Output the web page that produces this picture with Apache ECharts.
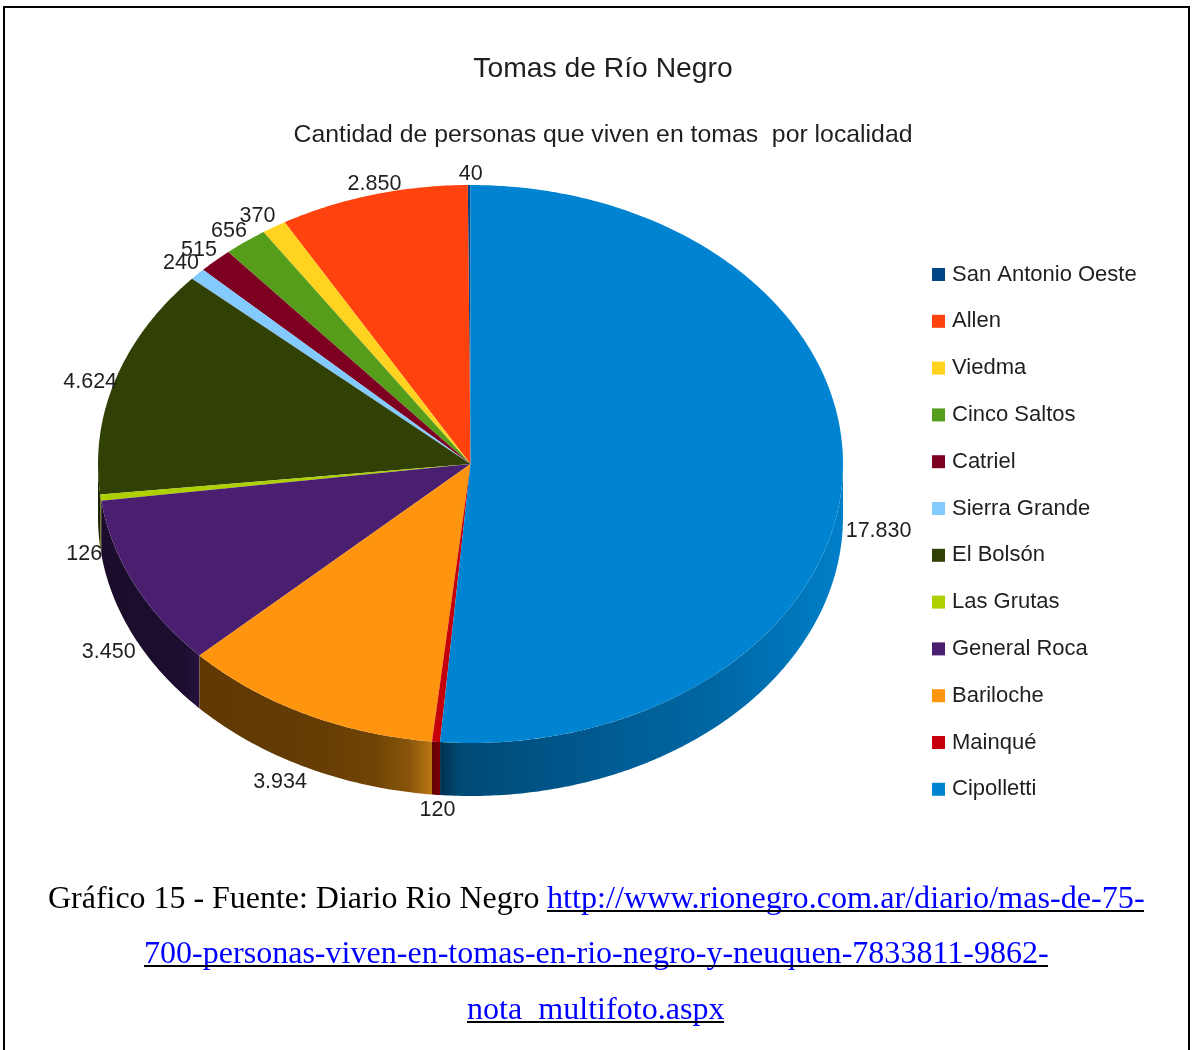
<!DOCTYPE html>
<html>
<head>
<meta charset="utf-8">
<style>html,body{margin:0;padding:0;background:#fff;overflow:hidden}#chart{width:1192px;height:1050px}</style>
<script src="https://cdn.jsdelivr.net/npm/echarts@6/dist/echarts.min.js"></script>
</head>
<body>
<div id="chart"></div>
<script>
// Localities, in legend order; the pie runs clockwise from the last one.
const categories = ['San Antonio Oeste','Allen','Viedma','Cinco Saltos','Catriel','Sierra Grande','El Bolsón','Las Grutas','General Roca','Bariloche','Mainqué','Cipolletti'];
const people = [40,2850,370,656,515,240,4624,126,3450,3934,120,17830];
const colors = ['#004586','#ff420e','#ffd320','#579d1c','#7e0021','#83caff','#314004','#aecf00','#4b1f6f','#ff950e','#c5000b','#0084d1'];

// Side-wall shading, left to right, for the slices whose rim faces the viewer.
const wallShades = {
  'El Bolsón': [[0,'#1c2402'],[1,'#1c2402']],
  'Las Grutas': [[0,'#5a6b00'],[1,'#5a6b00']],
  'General Roca': [[0,'#1a0c2a'],[0.85,'#1d0e30'],[1,'#27133d']],
  'Bariloche': [[0,'#5f3803'],[0.5,'#653c04'],[0.75,'#6f4405'],[0.9,'#87550a'],[1,'#ba7812']],
  'Mainqué': [[0,'#600005'],[1,'#7a0006']],
  'Cipolletti': [[0,'#02304f'],[0.05,'#004a75'],[0.3,'#00568a'],[0.7,'#0068a6'],[1,'#007fc9']]
};

const total = people.reduce((a, b) => a + b, 0);
const pie = { cx: 470.5, cy: 464, rx: 372.5, ry: 279, depth: 53 };
const textColor = '#1f1f1f';
const chartFont = '"Liberation Sans", Arial, sans-serif';
const captionFont = '"Liberation Serif", "Times New Roman", serif';

const startShare = i => people.slice(i + 1).reduce((a, b) => a + b, 0) / total;
const rim = a => [pie.cx + pie.rx * Math.sin(a), pie.cy - pie.ry * Math.cos(a)];

function arcPoints(a0, a1) {
  const n = Math.max(2, Math.ceil((a1 - a0) / 0.01));
  const pts = [];
  for (let k = 0; k <= n; k++) pts.push(rim(a0 + (a1 - a0) * k / n));
  return pts;
}

function numberText(v) {
  return String(v).replace(/\B(?=(\d{3})+$)/g, '.');
}

function labelPlacement(a, pos) {
  const d = a * 180 / Math.PI;
  const align = d > 22.5 && d < 157.5 ? 'left' : d > 202.5 && d < 337.5 ? 'right' : 'center';
  const vAlign = d > 112.5 && d < 247.5 ? 'top' : (d > 292.5 || d < 67.5) ? 'bottom' : 'middle';
  const lower = d > 90 && d < 270;
  let x = pos[0] + 1.5, y = pos[1] + (lower ? pie.depth : 0);
  if (align === 'left') x += 1.5;
  if (vAlign === 'top') y += 4;
  if (vAlign === 'middle') y += 3;
  return { x, y, align, verticalAlign: vAlign };
}

function renderSlice(i) {
  return function (params, api) {
    const value = api.value(0);
    const a0 = startShare(i) * 2 * Math.PI;
    const a1 = a0 + value / total * 2 * Math.PI;
    const mid = (a0 + a1) / 2;
    const children = [];

    // Rim: only the part of the slice between 90° and 270° faces the viewer.
    const w0 = Math.max(a0, Math.PI / 2), w1 = Math.min(a1, 3 * Math.PI / 2);
    if (w1 > w0 && wallShades[categories[i]]) {
      const arc = arcPoints(w0, w1);
      const lowerEdge = arc.slice().reverse().map(p => [p[0], p[1] + pie.depth]);
      children.push({
        type: 'polygon', z2: 1,
        shape: { points: arc.concat(lowerEdge) },
        style: {
          fill: new echarts.graphic.LinearGradient(0, 0, 1, 0,
            wallShades[categories[i]].map(s => ({ offset: s[0], color: s[1] })))
        }
      });
    }

    // Top face, a sector of the flattened circle.
    children.push({
      type: 'polygon', z2: 10,
      shape: { points: [[pie.cx, pie.cy]].concat(arcPoints(a0, a1)) },
      style: { fill: colors[i] }
    });

    // Value label outside the rim.
    const place = labelPlacement(mid, rim(mid));
    children.push({
      type: 'text', z2: 20,
      x: place.x, y: place.y,
      style: {
        text: numberText(value),
        font: '21.5px ' + chartFont,
        fill: textColor,
        align: place.align,
        verticalAlign: place.verticalAlign
      }
    });
    return { type: 'group', children };
  };
}

const series = categories.map((name, i) => ({
  type: 'custom',
  name,
  coordinateSystem: 'none',
  itemStyle: { color: colors[i] },
  data: [[people[i]]],
  renderItem: renderSlice(i),
  silent: true,
  animation: false
}));

const captionLines = [
  { y: 900, rule: 911, parts: [
    { x: 48, size: 31.95, text: 'Gráfico 15 - Fuente: Diario Rio Negro', fill: '#000' },
    { x: 547, size: 32.2, text: 'http://www.rionegro.com.ar/diario/mas-de-75-', fill: '#0000ff', underline: [547, 1144] }
  ] },
  { y: 955, rule: 966, parts: [
    { x: 144, size: 32.05, text: '700-personas-viven-en-tomas-en-rio-negro-y-neuquen-7833811-9862-', fill: '#0000ff', underline: [144, 1048] }
  ] },
  { y: 1011, rule: 1022, parts: [
    { x: 467, size: 32.1, text: 'nota_multifoto.aspx', fill: '#0000ff', underline: [467, 724] }
  ] }
];

const graphicElements = [{
  type: 'rect', silent: true,
  shape: { x: 4, y: 7, width: 1185, height: 1100 },
  style: { fill: 'none', stroke: '#000', lineWidth: 2 }
}];
captionLines.forEach(line => line.parts.forEach(p => {
  graphicElements.push({
    type: 'text', x: p.x, y: line.y, silent: true,
    style: { text: p.text, font: p.size + 'px ' + captionFont, fill: p.fill, textAlign: 'left', textVerticalAlign: 'middle' }
  });
  if (p.underline) {
    graphicElements.push({
      type: 'line', silent: true,
      shape: { x1: p.underline[0], y1: line.rule, x2: p.underline[1], y2: line.rule },
      style: { stroke: '#000', lineWidth: 2 }
    });
  }
}));

const chart = echarts.init(document.getElementById('chart'), null, { renderer: 'canvas' });
chart.setOption({
  animation: false,
  backgroundColor: '#fff',
  title: [
    { text: 'Tomas de Río Negro', left: 598, top: 50, textAlign: 'center',
      textStyle: { color: textColor, fontFamily: chartFont, fontWeight: 'normal', fontSize: 28.3 } },
    { text: 'Cantidad de personas que viven en tomas  por localidad', left: 598, top: 118, textAlign: 'center',
      textStyle: { color: textColor, fontFamily: chartFont, fontWeight: 'normal', fontSize: 24.8 } }
  ],
  legend: {
    orient: 'vertical',
    left: 927, top: 258.5,
    icon: 'rect',
    itemWidth: 13, itemHeight: 13,
    itemGap: 24.8,
    data: categories,
    selectedMode: false,
    textStyle: { color: textColor, fontFamily: chartFont, fontSize: 22, padding: [0, 0, 0, 2] }
  },
  series,
  graphic: { elements: graphicElements }
});
</script>
</body>
</html>
